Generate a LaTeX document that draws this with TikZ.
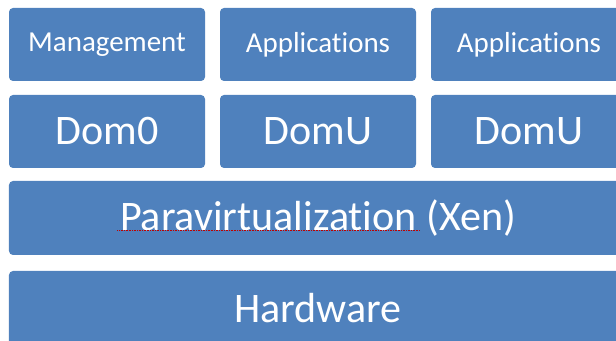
\documentclass[tikz,border=0pt]{standalone}
\usepackage{fontspec}
\setmainfont[Ligatures=NoCommon]{Carlito}
\usetikzlibrary{positioning}
\definecolor{layerblue}{HTML}{4F81BD}
\tikzset{
  layer/.style={rectangle,rounded corners=0.12cm,fill=layerblue,draw=none,text=white,inner sep=0pt},
  smallbox/.style={layer,minimum width=5.88cm,minimum height=2.19cm,font=\fontsize{24.7}{30}\selectfont},
  dombox/.style={layer,minimum width=5.88cm,minimum height=2.19cm,font=\fontsize{35.9}{42}\selectfont},
  widebox/.style={layer,minimum width=18.54cm,minimum height=2.22cm,font=\fontsize{35.9}{42}\selectfont}
}

\begin{document}
\begin{tikzpicture}
\useasboundingbox (0,0) rectangle (18.48,10.23);
\clip (0,0) rectangle (18.48,10.23);

% top row
\node[smallbox] (mgmt) at (3.21,8.895) {Management};
\node[smallbox] (appsA) at (9.54,8.895) {Applications};
\node[smallbox] (appsB) at (15.87,8.895) {Applications};

% domains
\node[dombox] (dom0) at (3.21,6.285) {Dom0};
\node[dombox] (domuA) at (9.54,6.285) {DomU};
\node[dombox] (domuB) at (15.87,6.285) {DomU};

% hypervisor and hardware
\node[widebox] (xen) at (9.54,3.69) {Paravirtualization (Xen)};
\node[widebox] (hw) at (9.54,0.99) {Hardware};

\draw[red!75!black,line width=0.5pt,dash pattern=on 0.6pt off 0.8pt] (3.52,3.31) -- (12.60,3.31);

\end{tikzpicture}
\end{document}
